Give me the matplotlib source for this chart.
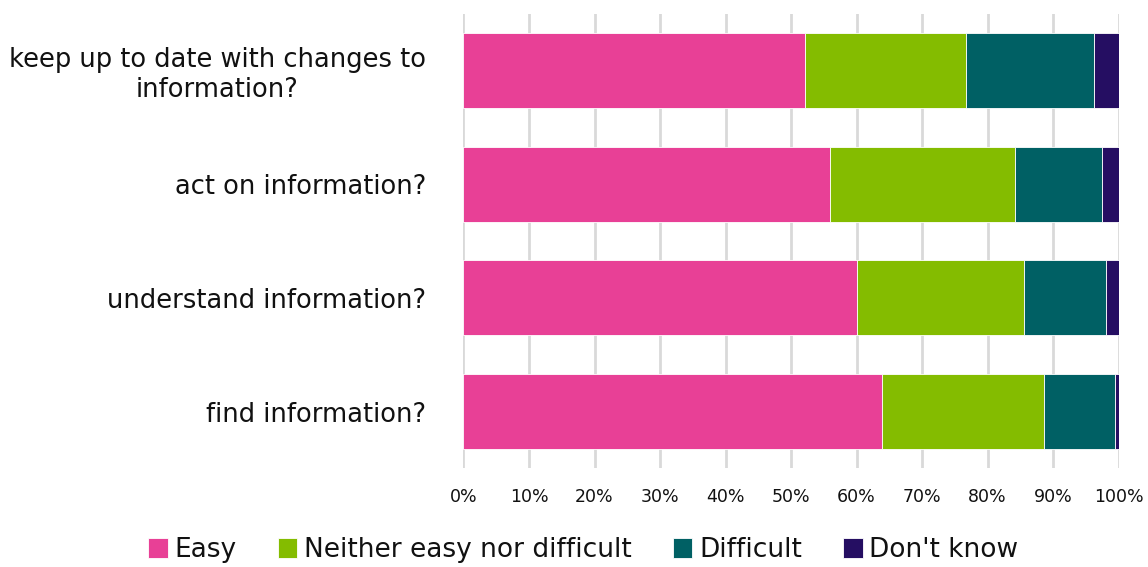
import matplotlib.pyplot as plt
import numpy as np

# Data (percentages)
categories = ["keep up to date with changes to\ninformation?",
              "act on information?",
              "understand information?",
              "find information?"]
series = ["Easy", "Neither easy nor difficult", "Difficult", "Don't know"]
easy = [52.1, 56.0, 60.1, 63.9]
neither = [24.6, 28.1, 25.4, 24.7]
difficult = [19.6, 13.4, 12.6, 10.8]
dont_know = [3.7, 2.5, 1.9, 0.6]
colors = ["#E84096", "#84BC00", "#006064", "#250E62"]

fig = plt.figure(figsize=(11.48, 5.67), dpi=100)
ax = fig.add_axes([0.4037, 0.174, 0.5708, 0.802])

y = np.arange(len(categories))
left = np.zeros(len(categories))
for name, vals, col in zip(series, [easy, neither, difficult, dont_know], colors):
    ax.barh(y, vals, left=left, height=0.66, color=col, label=name,
            edgecolor="white", linewidth=0.6, zorder=3)
    left += np.array(vals)

ax.set_ylim(len(categories) - 0.5, -0.5)
ax.set_xlim(0, 100)
ax.set_yticks(y)
ax.set_yticklabels(categories, fontsize=18.5, ha="right", multialignment="center",
                   color="#111111")
ax.set_xticks(np.arange(0, 101, 10))
ax.set_xticklabels([f"{v}%" for v in range(0, 101, 10)], fontsize=12.5,
                   color="#111111")
ax.tick_params(length=0, pad=27, axis="y")
ax.tick_params(length=0, pad=14, axis="x")
ax.grid(axis="x", color="#d9d9d9", linewidth=2, zorder=0)
for s in ax.spines.values():
    s.set_visible(False)

leg = fig.legend(loc="lower center", bbox_to_anchor=(0.508, -0.035), ncol=4,
                 frameon=False, fontsize=19, handlelength=0.75, handleheight=0.75,
                 handletextpad=0.25, columnspacing=1.55)
for t in leg.get_texts():
    t.set_color("#111111")

fig.savefig("out.png", dpi=100)
